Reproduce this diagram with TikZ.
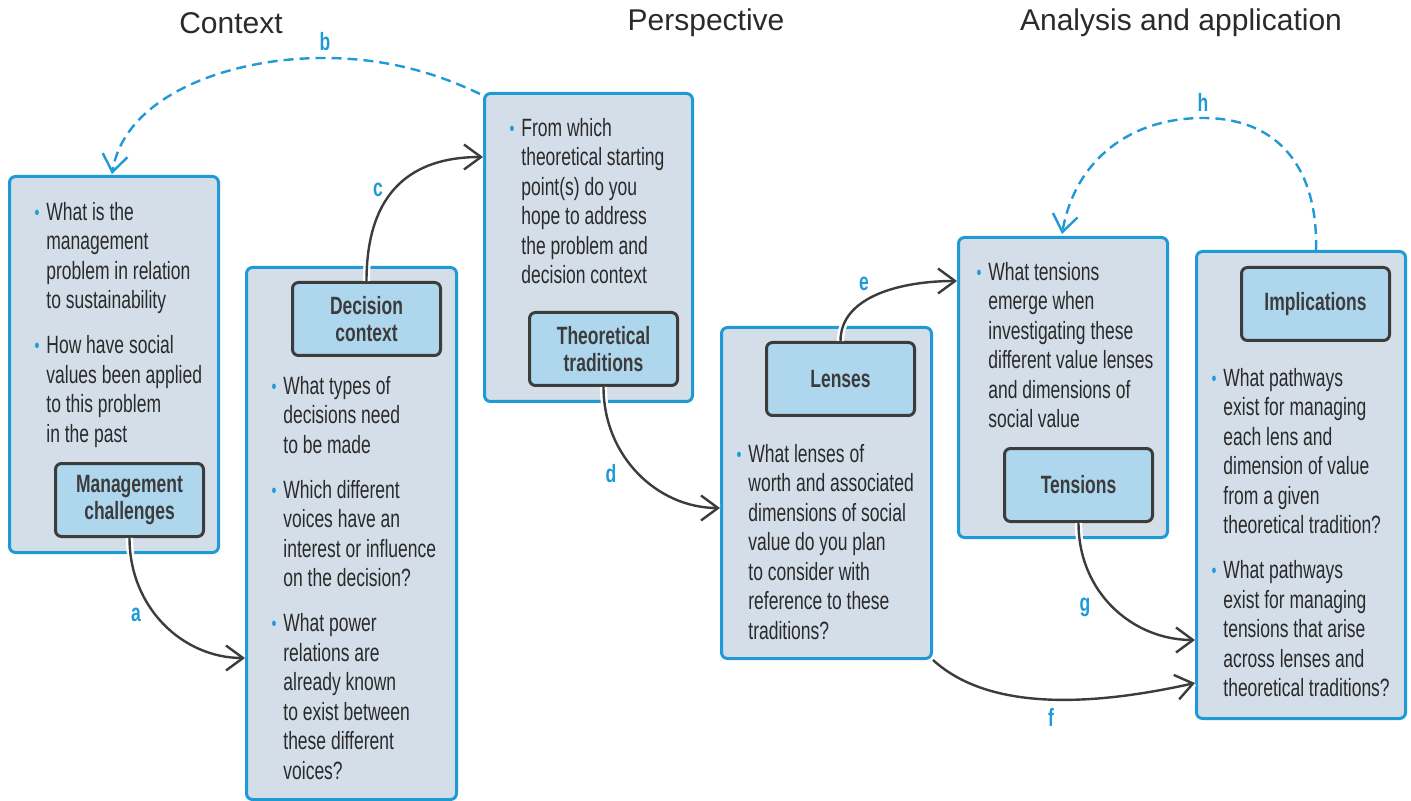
\documentclass[tikz,border=0pt]{standalone}
\usepackage{fontspec}
\setmainfont{Liberation Sans}[FakeStretch=0.7]
\newfontfamily\headfont{Liberation Sans}
\usetikzlibrary{arrows.meta,calc}

\definecolor{bluec}{HTML}{1F9AD6}
\definecolor{boxfill}{HTML}{D3DEE9}
\definecolor{innerfill}{HTML}{AED7EE}
\definecolor{darkc}{HTML}{3C3C3C}
\definecolor{textc}{HTML}{2A2A2A}

% blue bullet hung to the left of the first line of an item;
% the strut fixes the height of the first line so the node top sits 10pt above its baseline
\newcommand\bul{\leavevmode\rule{0pt}{10pt}\llap{\textcolor{bluec}{\raisebox{0.6pt}{\scalebox{0.8}{\textbullet}}}\hspace{3.4pt}}}
\newcommand\gap{\\[7.75pt]}

\tikzset{
  bigbox/.style={draw=bluec, fill=boxfill, line width=1.5pt, rounded corners=3pt,
    anchor=north west, inner sep=0pt, minimum width=104.5pt},
  labelbox/.style={draw=darkc, fill=innerfill, line width=1.5pt, rounded corners=3pt,
    anchor=north west, inner sep=0pt, minimum width=74pt, minimum height=36.5pt,
    align=center, text=darkc, font=\bfseries\fontsize{12.5}{13.5}\selectfont},
  qtext/.style={anchor=north west, align=left, inner sep=0pt, text=textc,
    font=\fontsize{12.5}{14.75}\selectfont},
  heading/.style={text=textc, font=\headfont\fontsize{15}{18}\selectfont},
  tag/.style={text=bluec, font=\bfseries\fontsize{12.5}{14}\selectfont},
  conn/.style={draw=darkc, line width=1.2pt, -{Straight Barb[length=8.5pt,width=12.5pt]},
    preaction={draw=white, line width=3.6pt, -}},
  loopback/.style={draw=bluec, line width=1.2pt, dash pattern=on 5pt off 3pt,
    -{Straight Barb[length=8.5pt,width=12.5pt]}}
}

\begin{document}
\begin{tikzpicture}[x=0.5pt,y=-0.5pt]
\useasboundingbox (0,0) rectangle (1411,801);

% column headings
\node[heading] (h1) at (231,23) {Context};
\node[heading] (h2) at (706,23) {Perspective};
\node[heading] (h3) at (1181,23) {Analysis and application};

% question panels
\node[bigbox, minimum height=188pt]   (box1) at (8,175)   {};
\node[bigbox, minimum height=266pt, minimum width=105pt] (box2) at (245,266) {};
\node[bigbox, minimum height=154pt, minimum width=104pt] (box3) at (483,92)  {};
\node[bigbox, minimum height=165.5pt, minimum width=105pt] (box4) at (720,326) {};
\node[bigbox, minimum height=150pt]   (box5) at (957,236) {};
\node[bigbox, minimum height=233.5pt] (box6) at (1195,250) {};

% panel titles
\node[labelbox] (mc) at (54,462)   {Management\\challenges};
\node[labelbox] (dc) at (291,281)  {Decision\\context};
\node[labelbox] (tt) at (528,311)  {Theoretical\\traditions};
\node[labelbox] (ln) at (765,341)  {Lenses};
\node[labelbox] (tn) at (1003,447) {Tensions};
\node[labelbox] (im) at (1240,266) {Implications};

% questions (node tops are 20 units above the first baseline)
\node[qtext] (q1) at (46,200) {\bul What is the\\ management\\ problem in relation\\ to sustainability\gap
  \bul How have social\\ values been applied\\ to this problem\\ in the past};
\node[qtext] (q2) at (283,374) {\bul What types of\\ decisions need\\ to be made\gap
  \bul Which different\\ voices have an\\ interest or influence\\ on the decision?\gap
  \bul What power\\ relations are\\ already known\\ to exist between\\ these different\\ voices?};
\node[qtext] (q3) at (521,116) {\bul From which\\ theoretical starting\\ point(s) do you\\ hope to address\\ the problem and\\ decision context};
\node[qtext] (q4) at (748,442) {\bul What lenses of\\ worth and associated\\ dimensions of social\\ value do you plan\\ to consider with\\ reference to these\\ traditions?};
\node[qtext] (q5) at (988,260) {\bul What tensions\\ emerge when\\ investigating these\\ different value lenses\\ and dimensions of\\ social value};
\node[qtext] (q6) at (1223,366) {\bul What pathways\\ exist for managing\\ each lens and\\ dimension of value\\ from a given\\ theoretical tradition?\gap
  \bul What pathways\\ exist for managing\\ tensions that arise\\ across lenses and\\ theoretical traditions?};

% connector end points on panel borders
\coordinate (aend) at (box2.west |- 0,658);
\coordinate (cend) at (box3.west |- 0,157);
\coordinate (dend) at (box4.west |- 0,508);
\coordinate (eend) at (box5.west |- 0,281);
\coordinate (gend) at (box6.west |- 0,640);
\coordinate (fend) at (box6.west |- 0,683);
\coordinate (bstart) at ($(box3.north west)+(-3,2)$);
\coordinate (bend) at ($(box1.north west)+(104,-1)$);
\coordinate (hstart) at ($(box6.north west)+(121,0)$);
\coordinate (hend) at ($(box5.north west)+(105,-2)$);

% flow between panels
\draw[conn] (mc.south) .. controls +(0,70) and +(-62,0) .. (aend);
\draw[conn] (dc.north) .. controls +(0,-100) and +(-60,0) .. (cend);
\draw[conn] (tt.south) .. controls +(0,70) and +(-62,0) .. (dend);
\draw[conn] (ln.north) .. controls +(0,-45) and +(-55,0) .. (eend);
\draw[conn] (tn.south) .. controls +(0,70) and +(-62,0) .. (gend);
\draw[conn] (box4.south east) .. controls +(60,55) and +(-90,20) .. (fend);

% feedback loops
\draw[loopback] (bstart) .. controls (430,70) and (380,58) .. (323,58)
  .. controls (230,58) and (125,95) .. (bend);
\draw[loopback] (hstart) .. controls (1318,170) and (1280,118) .. (1203,118)
  .. controls (1130,118) and (1075,160) .. (hend);

% connector tags
\node[tag] (la) at (136,615)  {a};
\node[tag] (lb) at (325,42)   {b};
\node[tag] (lc) at (378,190)  {c};
\node[tag] (ld) at (611,474)  {d};
\node[tag] (le) at (864,284)  {e};
\node[tag] (lf) at (1051,717) {f};
\node[tag] (lg) at (1085,607) {g};
\node[tag] (lh) at (1203,102) {h};
\end{tikzpicture}
\end{document}
